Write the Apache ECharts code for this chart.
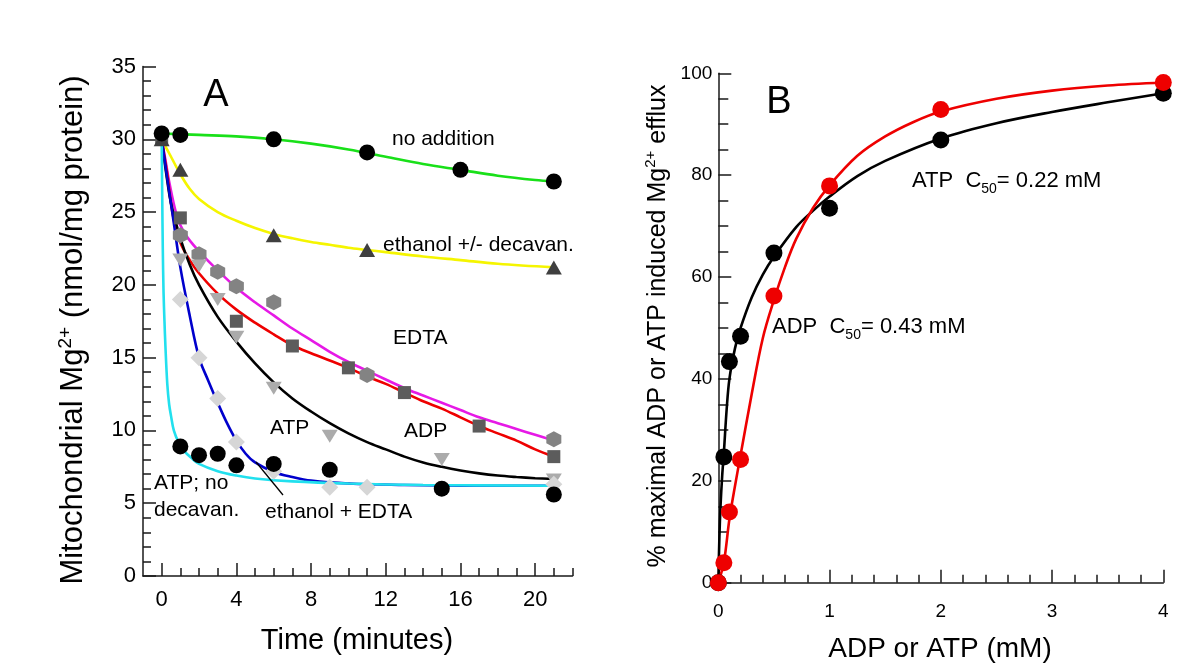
<!DOCTYPE html>
<html><head><meta charset="utf-8">
<script src="https://cdn.jsdelivr.net/npm/echarts@6.0.0/dist/echarts.min.js"></script>
<style>html,body{margin:0;padding:0;background:#fff}#c{width:1200px;height:668px}</style>
</head><body><div id="c"></div>
<script>
const FONT = '"Liberation Sans", Arial, Helvetica, sans-serif';

// ---------- Panel A : markers (time, minutes / Mg2+, nmol/mg protein) ----------
const noAddT = [0, 1, 6, 11, 16, 21];
const noAddY = [30.4, 30.3, 30.0, 29.1, 27.9, 27.1];
const ethDecT = [0, 1, 6, 11, 21];
const ethDecY = [30.0, 27.9, 23.4, 22.4, 21.2];
const edtaT = [0, 1, 4, 7, 10, 13, 17, 21];
const edtaY = [30.0, 24.6, 17.5, 15.8, 14.3, 12.6, 10.3, 8.2];
const hexT = [1, 2, 3, 4, 6, 11, 21];
const hexY = [23.4, 22.1, 20.9, 19.9, 18.8, 13.8, 9.4];
const adpT = [1, 2, 3, 4, 6, 9, 15, 21];
const adpY = [21.7, 21.3, 19.0, 16.4, 12.9, 9.6, 8.0, 6.6];
const ethEdtaT = [1, 2, 3, 4, 6, 9, 11, 21];
const ethEdtaY = [19.0, 15.0, 12.2, 9.2, 7.2, 6.1, 6.1, 6.3];
const atpNoT = [1, 2, 3, 4, 6, 9, 15, 21];
const atpNoY = [8.9, 8.3, 8.4, 7.6, 7.7, 7.3, 6.0, 5.6];

// ---------- Panel A : fitted curves ----------
const greenT = [0, 2, 4, 6, 8, 10, 12, 14, 16, 18, 20, 21];
const greenY = [30.4, 30.3, 30.2, 30.0, 29.7, 29.3, 28.8, 28.3, 27.9, 27.5, 27.2, 27.1];
const yellowT = [0, 0.25, 0.5, 1, 1.5, 2, 3, 4, 5, 6, 7, 8, 9, 10, 11, 12, 14, 16, 18, 21];
const yellowY = [30, 29.4, 28.8, 27.6, 26.6, 25.9, 25.0, 24.4, 23.9, 23.5, 23.2, 22.95, 22.75, 22.55, 22.4, 22.25, 21.95, 21.7, 21.45, 21.2];
const magT = [0, 0.2, 0.4, 0.8, 1.2, 2, 3, 4, 5, 6, 7, 8, 9, 10, 11, 12, 13, 14, 15, 16, 17, 18, 19, 20, 21];
const magY = [30, 28.6, 27.1, 24.8, 23.6, 22.3, 21.0, 19.8, 18.8, 17.9, 17.0, 16.2, 15.4, 14.7, 14.1, 13.5, 12.9, 12.4, 11.9, 11.4, 10.9, 10.5, 10.1, 9.7, 9.3];
const redT = [0, 0.15, 0.3, 0.6, 1, 1.5, 2, 3, 4, 5, 6, 7, 8, 9, 10, 11, 12, 13, 14, 15, 16, 17, 18, 19, 20, 21];
const redY = [30, 28.8, 27.6, 24.8, 22.9, 21.7, 20.8, 19.4, 18.3, 17.4, 16.6, 15.85, 15.3, 14.8, 14.3, 13.7, 13.2, 12.6, 12.0, 11.5, 10.9, 10.3, 9.8, 9.3, 8.7, 8.2];
const blackT = [0, 0.25, 0.5, 1, 1.5, 2, 3, 4, 5, 6, 7, 8, 9, 10, 11, 12, 13, 14, 15, 16, 17, 18, 19, 20, 21];
const blackY = [30, 27.6, 25.6, 23.2, 21.4, 20.0, 17.8, 16.1, 14.6, 13.3, 12.2, 11.3, 10.5, 9.8, 9.2, 8.7, 8.2, 7.8, 7.5, 7.25, 7.05, 6.9, 6.8, 6.72, 6.66];
const blueT = [0, 0.3, 0.6, 1, 1.5, 2, 2.5, 3, 3.5, 4, 4.5, 5, 6, 7, 8, 10, 13, 17, 21];
const blueY = [30, 27.3, 24.7, 21.2, 17.9, 15.0, 13.4, 11.9, 10.5, 9.3, 8.4, 7.8, 7.15, 6.8, 6.55, 6.35, 6.25, 6.2, 6.2];
const cyanT = [0, 0.03, 0.06, 0.1, 0.15, 0.2, 0.3, 0.4, 0.5, 0.65, 0.9, 1.2, 1.6, 2, 3, 4, 5, 7, 10, 14, 21];
const cyanY = [30, 26, 22.5, 19.5, 17.5, 15.8, 13.2, 11.8, 11.0, 10.0, 9.2, 8.6, 8.1, 7.7, 7.2, 6.9, 6.7, 6.5, 6.35, 6.25, 6.2];

// tick values, panel A time axis
const aXMajor = [0, 4, 8, 12, 16, 20];
const aXMinor = [1, 2, 3, 5, 6, 7, 9, 10, 11, 13, 14, 15, 17, 18, 19, 21, 22];

// ---------- Panel B ----------
const concB = [0, 0.05, 0.1, 0.2, 0.5, 1, 2, 4];
const atpB = [0, 24.7, 43.4, 48.4, 64.7, 73.5, 86.9, 96.1];
const adpB = [0, 3.9, 13.9, 24.2, 56.3, 77.9, 92.9, 98.2];
const atpFitX = [0, 0.01, 0.02, 0.035, 0.05, 0.075, 0.1, 0.15, 0.2, 0.3, 0.4, 0.5, 0.7, 0.85, 1, 1.25, 1.5, 2, 2.5, 3, 3.5, 4];
const atpFitY = [0, 9, 15, 21, 25.5, 34, 40, 46, 50, 56, 60.5, 64, 69.8, 73, 75.8, 79.8, 82.8, 87.2, 90.2, 92.4, 94.3, 96.1];
const adpFitX = [0, 0.05, 0.1, 0.15, 0.2, 0.3, 0.4, 0.5, 0.6, 0.7, 0.85, 1, 1.25, 1.5, 1.75, 2, 2.5, 3, 3.5, 4];
const adpFitY = [0, 4, 12.5, 19, 25, 37, 48, 55.5, 62, 67.5, 73.5, 78, 83.8, 87.6, 90.4, 92.5, 95, 96.6, 97.6, 98.2];

const pairs = (xs, ys) => xs.map((x, i) => [x, ys[i]]);
const AX = {color: '#1a1a1a', width: 1.5};
const HEX = 'path://M0,-10L8.66,-5L8.66,5L0,10L-8.66,5L-8.66,-5Z';

function curve(name, xs, ys, color, xi, yi) {
  return {name, type: 'line', xAxisIndex: xi, yAxisIndex: yi, data: pairs(xs, ys),
    symbol: 'none', smooth: 0.35, clip: false, silent: true,
    lineStyle: {color, width: 2.6}, z: 2};
}
function dots(name, xs, ys, symbol, size, color, xi, yi, extra) {
  return Object.assign({name, type: 'scatter', xAxisIndex: xi, yAxisIndex: yi, data: pairs(xs, ys),
    symbol, symbolSize: size, clip: false, silent: true,
    itemStyle: {color, opacity: 1}, z: 4}, extra || {});
}

const chart = echarts.init(document.getElementById('c'), null, {renderer: 'canvas'});

const txt = (x, y, text, size, extra) => ({type: 'text', x, y, z: 100, silent: true,
  style: Object.assign({text, fontSize: size, fontFamily: FONT, fill: '#000', align: 'left', verticalAlign: 'middle'}, extra || {})});

chart.setOption({
  animation: false,
  backgroundColor: '#fff',
  textStyle: {fontFamily: FONT},
  grid: [
    {left: 143, top: 66.5, width: 429.5, height: 509.5},
    {left: 718.3, top: 73.3, width: 445, height: 509.4}
  ],
  xAxis: [
    {gridIndex: 0, type: 'value', min: -1, max: 22, position: 'bottom',
      axisLine: {show: true, onZero: false, lineStyle: AX},
      axisTick: {show: true, inside: true, length: 13, lineStyle: AX, customValues: aXMajor},
      axisLabel: {customValues: aXMajor, fontSize: 22, margin: 13, color: '#000', fontFamily: FONT},
      splitLine: {show: false}},
    {gridIndex: 0, type: 'value', min: -1, max: 22, position: 'bottom',
      axisLine: {show: false},
      axisTick: {show: true, inside: true, length: 8, lineStyle: AX, customValues: aXMinor},
      axisLabel: {show: false}, splitLine: {show: false}},
    {gridIndex: 1, type: 'value', min: 0, max: 4, interval: 1, position: 'bottom',
      axisLine: {show: true, onZero: false, lineStyle: AX},
      axisTick: {show: true, inside: true, length: 13, lineStyle: AX},
      minorTick: {show: true, splitNumber: 5, length: 8, lineStyle: AX},
      axisLabel: {fontSize: 19, margin: 20, color: '#000', fontFamily: FONT},
      splitLine: {show: false}, minorSplitLine: {show: false}}
  ],
  yAxis: [
    {gridIndex: 0, type: 'value', min: 0, max: 35, interval: 5,
      axisLine: {show: true, onZero: false, lineStyle: AX},
      axisTick: {show: true, inside: true, length: 13, lineStyle: AX},
      minorTick: {show: true, splitNumber: 5, length: 8, lineStyle: AX},
      axisLabel: {fontSize: 22, margin: 7, color: '#000', fontFamily: FONT},
      splitLine: {show: false}, minorSplitLine: {show: false}},
    {gridIndex: 1, type: 'value', min: 0, max: 100, interval: 20,
      axisLine: {show: true, onZero: false, lineStyle: AX},
      axisTick: {show: true, inside: true, length: 13, lineStyle: AX},
      minorTick: {show: true, splitNumber: 4, length: 10, lineStyle: AX},
      axisLabel: {fontSize: 19, margin: 6, color: '#000', fontFamily: FONT},
      splitLine: {show: false}, minorSplitLine: {show: false}}
  ],
  series: [
    curve('no addition', greenT, greenY, '#19e019', 0, 0),
    curve('ethanol +/- decavan.', yellowT, yellowY, '#f5f500', 0, 0),
    curve('EDTA (hex)', magT, magY, '#e619e6', 0, 0),
    curve('EDTA', redT, redY, '#ee0000', 0, 0),
    curve('ADP', blackT, blackY, '#000000', 0, 0),
    curve('ethanol + EDTA', blueT, blueY, '#0000cc', 0, 0),
    curve('ATP; no decavan.', cyanT, cyanY, '#22e0ee', 0, 0),

    dots('EDTA squares', edtaT, edtaY, 'rect', 13, '#5c5c5c', 0, 0),
    dots('ethanol triangles', ethDecT, ethDecY, 'triangle', [16, 14], '#3f3f3f', 0, 0),
    dots('hexagons', hexT, hexY, HEX, [15, 16], '#838383', 0, 0),
    dots('ADP triangles', adpT, adpY, 'triangle', [16, 13], '#ababab', 0, 0, {symbolRotate: 180}),
    dots('diamonds', ethEdtaT, ethEdtaY, 'diamond', [17, 17], '#d6d6d6', 0, 0),
    dots('ATP no decavan', atpNoT, atpNoY, 'circle', 16, '#000', 0, 0),
    dots('no addition pts', noAddT, noAddY, 'circle', 16, '#000', 0, 0),

    curve('ATP fit', atpFitX, atpFitY, '#000', 2, 1),
    curve('ADP fit', adpFitX, adpFitY, '#ee0000', 2, 1),
    dots('ATP B', concB, atpB, 'circle', 17, '#000', 2, 1),
    dots('ADP B', concB, adpB, 'circle', 17, '#ee0000', 2, 1)
  ],
  graphic: [
    txt(216, 96, 'A', 38, {align: 'center'}),
    txt(779, 103, 'B', 38, {align: 'center'}),
    {type: 'text', x: 72, y: 330, rotation: Math.PI / 2, z: 100, silent: true,
      style: {text: '{n|Mitochondrial Mg}{s|2+}{n| (nmol/mg protein)}', align: 'center', verticalAlign: 'middle',
        fill: '#000', fontFamily: FONT,
        rich: {n: {fontSize: 31, fontFamily: FONT, lineHeight: 35, padding: [3, 0, 0, 0], verticalAlign: 'top'},
               s: {fontSize: 19, fontFamily: FONT, lineHeight: 21, padding: [2, 0, 0, 0], verticalAlign: 'top'}}}},
    txt(357, 641, 'Time (minutes)', 29, {align: 'center'}),
    {type: 'text', x: 657, y: 326, rotation: Math.PI / 2, z: 100, silent: true,
      style: {text: '{n|% maximal ADP or ATP induced Mg}{s|2+}{n| efflux}', align: 'center', verticalAlign: 'middle',
        fill: '#000', fontFamily: FONT,
        rich: {n: {fontSize: 25, fontFamily: FONT, lineHeight: 29, padding: [3, 0, 0, 0], verticalAlign: 'top'},
               s: {fontSize: 15, fontFamily: FONT, lineHeight: 17, padding: [1, 0, 0, 0], verticalAlign: 'top'}}}},
    txt(940, 649, 'ADP or ATP (mM)', 28, {align: 'center'}),

    txt(392, 139, 'no addition', 21),
    txt(383, 245, 'ethanol +/- decavan.', 21),
    txt(393, 338, 'EDTA', 21),
    txt(270, 428, 'ATP', 21),
    txt(404, 431, 'ADP', 21),
    txt(154, 483, 'ATP; no', 21),
    txt(154, 510, 'decavan.', 21),
    txt(265, 512, 'ethanol + EDTA', 21),
    {type: 'line', z: 100, silent: true, shape: {x1: 256, y1: 462, x2: 283, y2: 495}, style: {stroke: '#000', lineWidth: 1.3}},

    {type: 'text', x: 912, y: 182, z: 100, silent: true,
      style: {text: '{n|ATP  C}{b|50}{n|= 0.22 mM}', align: 'left', verticalAlign: 'middle', fill: '#000', fontFamily: FONT,
        rich: {n: {fontSize: 22, fontFamily: FONT, lineHeight: 24, verticalAlign: 'top'},
               b: {fontSize: 14, fontFamily: FONT, lineHeight: 16, padding: [12, 0, 0, 0], verticalAlign: 'top'}}}},
    {type: 'text', x: 772, y: 328, z: 100, silent: true,
      style: {text: '{n|ADP  C}{b|50}{n|= 0.43 mM}', align: 'left', verticalAlign: 'middle', fill: '#000', fontFamily: FONT,
        rich: {n: {fontSize: 22, fontFamily: FONT, lineHeight: 24, verticalAlign: 'top'},
               b: {fontSize: 14, fontFamily: FONT, lineHeight: 16, padding: [12, 0, 0, 0], verticalAlign: 'top'}}}}
  ]
});
</script>
</body></html>
